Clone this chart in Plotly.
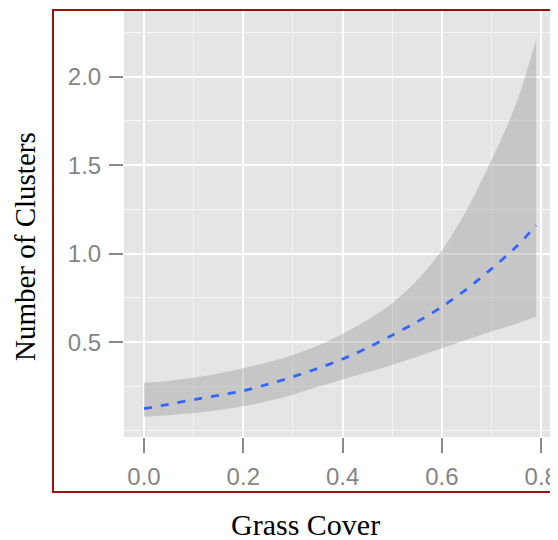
import plotly.graph_objects as go

# Data
grass_cover = [0.0, 0.05, 0.1, 0.15, 0.2, 0.25, 0.3, 0.35, 0.4, 0.45, 0.5,
               0.55, 0.6, 0.65, 0.7, 0.75, 0.79]
fit_mean = [0.125, 0.150, 0.176, 0.200, 0.226, 0.263, 0.305, 0.352, 0.405,
            0.468, 0.540, 0.615, 0.700, 0.800, 0.915, 1.040, 1.160]
fit_upper = [0.270, 0.283, 0.300, 0.324, 0.353, 0.387, 0.428, 0.480, 0.548,
             0.626, 0.720, 0.850, 1.020, 1.247, 1.530, 1.850, 2.210]
fit_lower = [0.080, 0.088, 0.100, 0.118, 0.138, 0.168, 0.204, 0.248, 0.290,
             0.331, 0.372, 0.418, 0.466, 0.514, 0.560, 0.605, 0.644]

x_ticks = [0.0, 0.2, 0.4, 0.6, 0.8]
x_tick_labels = ["0.0", "0.2", "0.4", "0.6", "0.8"]
y_ticks = [0.5, 1.0, 1.5, 2.0]
y_tick_labels = ["0.5", "1.0", "1.5", "2.0"]

fig = go.Figure()
fig.add_trace(go.Scatter(x=grass_cover, y=fit_lower, mode="lines",
                         line=dict(width=0, shape="spline", smoothing=0.8),
                         hoverinfo="skip", showlegend=False))
fig.add_trace(go.Scatter(x=grass_cover, y=fit_upper, mode="lines",
                         line=dict(width=0, shape="spline", smoothing=0.8),
                         fill="tonexty", fillcolor="rgba(153,153,153,0.4)",
                         hoverinfo="skip", showlegend=False))
fig.add_trace(go.Scatter(x=grass_cover, y=fit_mean, mode="lines",
                         line=dict(color="#3366FF", width=2.8, dash="8px,9px",
                                   shape="spline", smoothing=0.8),
                         showlegend=False))

# The page body adds an 8px offset; the figure is sized so it fits the window.
OFF = 8
W, H = 558 - OFF, 540 - OFF
ml, mr, mt, mb = 124 - OFF, 0, 11 - OFF, 540 - 437
pw, ph = W - ml - mr, H - mt - mb

def px_to_paper_x(px):
    return (px - OFF - ml) / pw

def px_to_paper_y(py):
    return (H - mb - (py - OFF)) / ph

tick_font = dict(family="Liberation Sans, Arial, sans-serif", size=24, color="#858585")

fig.update_layout(
    width=W, height=H,
    margin=dict(l=ml, r=mr, t=mt, b=mb, pad=0),
    paper_bgcolor="white",
    plot_bgcolor="#E5E5E5",
    xaxis=dict(range=[-0.0403, 0.8338], tickvals=x_ticks, ticktext=x_tick_labels,
               showgrid=True, gridcolor="white", gridwidth=2,
               minor=dict(tickvals=[0.1, 0.3, 0.5, 0.7], showgrid=True,
                          gridcolor="#f4f4f4", gridwidth=1.2, ticks=""),
               ticks="outside", ticklen=15, tickwidth=2, tickcolor="#8a8a8a",
               tickfont=tick_font, ticklabelstandoff=3,
               zeroline=False, showline=False),
    yaxis=dict(range=[-0.035, 2.370], tickvals=y_ticks, ticktext=y_tick_labels,
               showgrid=True, gridcolor="white", gridwidth=2,
               minor=dict(tickvals=[0.0, 0.25, 0.75, 1.25, 1.75, 2.25], showgrid=True,
                          gridcolor="#f4f4f4", gridwidth=1.2, ticks=""),
               ticks="outside", ticklen=14, tickwidth=2, tickcolor="#8a8a8a",
               tickfont=tick_font, ticklabelstandoff=3,
               zeroline=False, showline=False),
    shapes=[dict(type="rect", xref="paper", yref="paper",
                 x0=px_to_paper_x(53), x1=1.05,
                 y0=px_to_paper_y(492), y1=px_to_paper_y(10),
                 line=dict(color="#9b1111", width=2), fillcolor="rgba(0,0,0,0)",
                 layer="above")],
    annotations=[
        dict(text="Grass Cover", xref="paper", yref="paper",
             x=px_to_paper_x(305), y=px_to_paper_y(524),
             showarrow=False, xanchor="center", yanchor="middle",
             font=dict(family="Liberation Serif, Times New Roman, serif", size=30, color="black")),
        dict(text="Number of Clusters", xref="paper", yref="paper",
             x=px_to_paper_x(25), y=px_to_paper_y(247), textangle=-90,
             showarrow=False, xanchor="center", yanchor="middle",
             font=dict(family="Liberation Serif, Times New Roman, serif", size=29, color="black")),
    ],
)

fig.write_html("out.html")
